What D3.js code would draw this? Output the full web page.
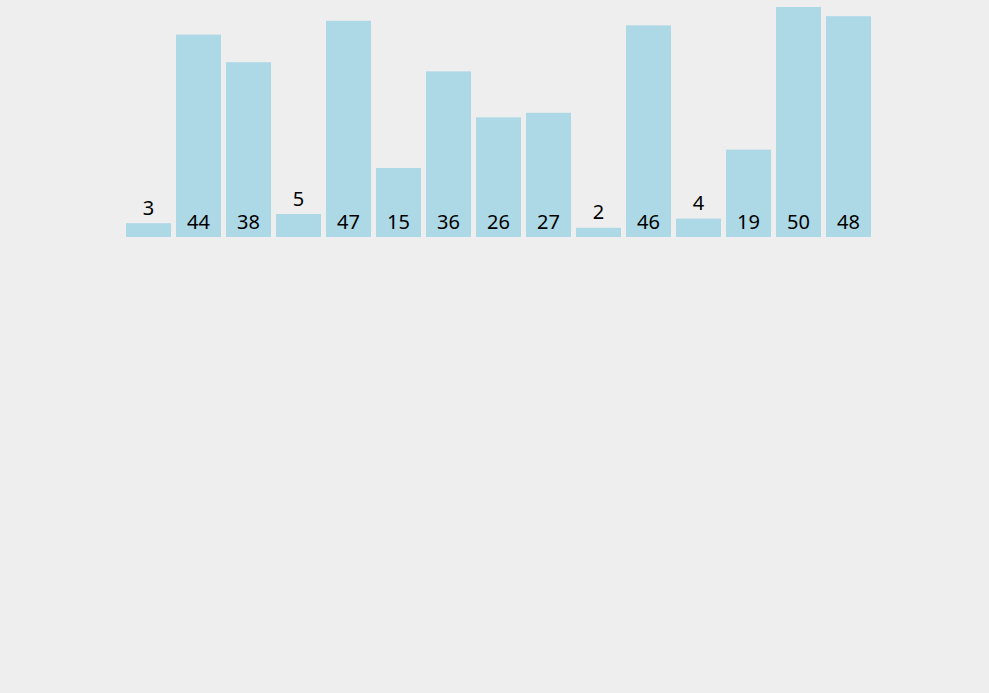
<!DOCTYPE html>
<html>
<head>
<meta charset="utf-8">
<script src="https://cdn.jsdelivr.net/npm/d3@7"></script>
<style>
  html, body { margin: 0; padding: 0; background: #eeeeee; }
  svg { display: block; }
  rect { fill: lightblue; }
  text { font-family: "Noto Sans", "Open Sans", sans-serif; font-size: 20px; fill: #000; }
</style>
</head>
<body>
<script>
var width = 989,
    height = 693;

var values = [3, 44, 38, 5, 47, 15, 36, 26, 27, 2, 46, 4, 19, 50, 48];

var svg = d3.select("body")
    .append("svg")
    .attr("width", width)
    .attr("height", height)

var x = d3.scaleBand()
    .domain(d3.range(values.length))
    .range([126, 871])
    .paddingInner(0.1);

var y = d3.scaleLinear()
    .domain([0, 50])
    .range([237, 7]);

svg.selectAll("rect")
    .data(values)
    .enter()
    .append("rect")
    .attr("x", function(d, i){return x(i)})
    .attr("y", function(d){return y(d)})
    .attr("width", x.bandwidth())
    .attr("height", function(d){return y(0) - y(d)});

// small bars get the label on top, the others inside near the bottom
svg.selectAll("text")
    .data(values)
    .enter()
    .append("text")
    .attr("text-anchor", "middle")
    .attr("x", function(d, i){return x(i) + x.bandwidth() / 2})
    .attr("y", function(d){return d < 10 ? y(d) - 8.5 : y(0) - 8})
    .text(function(d){return d});
</script>
</body>
</html>
